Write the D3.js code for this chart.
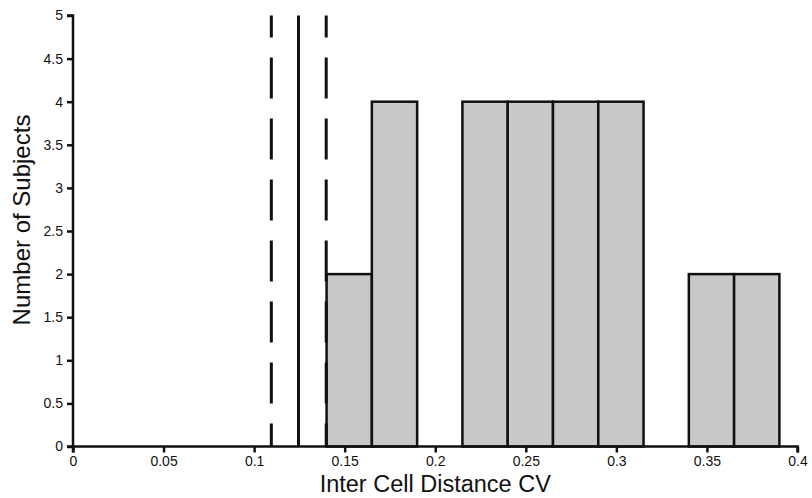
<!DOCTYPE html>
<html>
<head>
<meta charset="utf-8">
<script src="https://cdn.jsdelivr.net/npm/d3@7"></script>
<style>
  body { margin: 0; background: #fff; }
  text { font-family: "Liberation Sans", Arial, sans-serif; fill: #111; }
</style>
</head>
<body>
<script>
// histogram bins (left edge, right edge) and counts
var binStarts = [0.14, 0.165, 0.19, 0.215, 0.24, 0.265, 0.29, 0.315, 0.34, 0.365];
var binWidth = 0.025;
var counts = [2, 4, 0, 4, 4, 4, 4, 0, 2, 2];

// reference lines: mean and bounds
var solidLine = [0.1245];
var dashedLines = [0.1095, 0.1398];

var xTicks = [0, 0.05, 0.1, 0.15, 0.2, 0.25, 0.3, 0.35, 0.4];
var yTicks = [0, 0.5, 1, 1.5, 2, 2.5, 3, 3.5, 4, 4.5, 5];

var width = 812, height = 498;

var x = d3.scaleLinear().domain([0, 0.4]).range([73, 797.5]);
var y = d3.scaleLinear().domain([0, 5]).range([446.5, 15.5]);

var svg = d3.select("body").append("svg")
      .attr("width", width)
      .attr("height", height);

var bars = binStarts.map(function (d, i) { return { x0: d, x1: d + binWidth, n: counts[i] }; })
      .filter(function (d) { return d.n > 0; });

svg.selectAll("rect.bar")
      .data(bars)
      .enter().append("rect")
      .attr("class", "bar")
      .attr("x", function (d) { return x(d.x0); })
      .attr("y", function (d) { return y(d.n); })
      .attr("width", function (d) { return x(d.x1) - x(d.x0); })
      .attr("height", function (d) { return y(0) - y(d.n); })
      .attr("fill", "#c8c8c8")
      .attr("stroke", "#111")
      .attr("stroke-width", 2.5);

svg.selectAll("line.dash")
      .data(dashedLines)
      .enter().append("line")
      .attr("class", "dash")
      .attr("x1", function (d) { return x(d); })
      .attr("x2", function (d) { return x(d); })
      .attr("y1", y(5))
      .attr("y2", y(0))
      .attr("stroke", "#111")
      .attr("stroke-width", 3)
      .attr("stroke-dasharray", "41,20")
      .attr("stroke-dashoffset", 19);

svg.selectAll("line.solid")
      .data(solidLine)
      .enter().append("line")
      .attr("class", "solid")
      .attr("x1", function (d) { return x(d); })
      .attr("x2", function (d) { return x(d); })
      .attr("y1", y(5))
      .attr("y2", y(0))
      .attr("stroke", "#111")
      .attr("stroke-width", 3);

var xAxis = d3.axisBottom(x).tickValues(xTicks).tickSize(6).tickPadding(4)
      .tickFormat(function (d) { return String(+d.toFixed(2)); });
var yAxis = d3.axisLeft(y).tickValues(yTicks).tickSize(6).tickPadding(4)
      .tickFormat(function (d) { return String(d); });

var gx = svg.append("g")
      .attr("transform", "translate(0," + y(0) + ")")
      .call(xAxis);
var gy = svg.append("g")
      .attr("transform", "translate(" + x(0) + ",0)")
      .call(yAxis);

[gx, gy].forEach(function (g) {
  g.select(".domain").attr("stroke", "#111").attr("stroke-width", 2.5);
  g.selectAll(".tick line").attr("stroke", "#111").attr("stroke-width", 2.5);
  g.selectAll(".tick text").attr("font-size", 14).attr("fill", "#111")
        .style("font-family", "'Liberation Sans', Arial, sans-serif");
});
gx.select(".domain").attr("d", "M" + x(0) + ",6V0H" + x(0.4) + "V6");
gy.select(".domain").attr("d", "M-6," + y(5) + "H0V" + y(0) + "H-6");

svg.append("text")
      .attr("x", (x(0) + x(0.4)) / 2)
      .attr("y", 492)
      .attr("text-anchor", "middle")
      .attr("font-size", 23.5)
      .text("Inter Cell Distance CV");

svg.append("text")
      .attr("transform", "translate(30,220) rotate(-90)")
      .attr("text-anchor", "middle")
      .attr("font-size", 24)
      .text("Number of Subjects");
</script>
</body>
</html>
